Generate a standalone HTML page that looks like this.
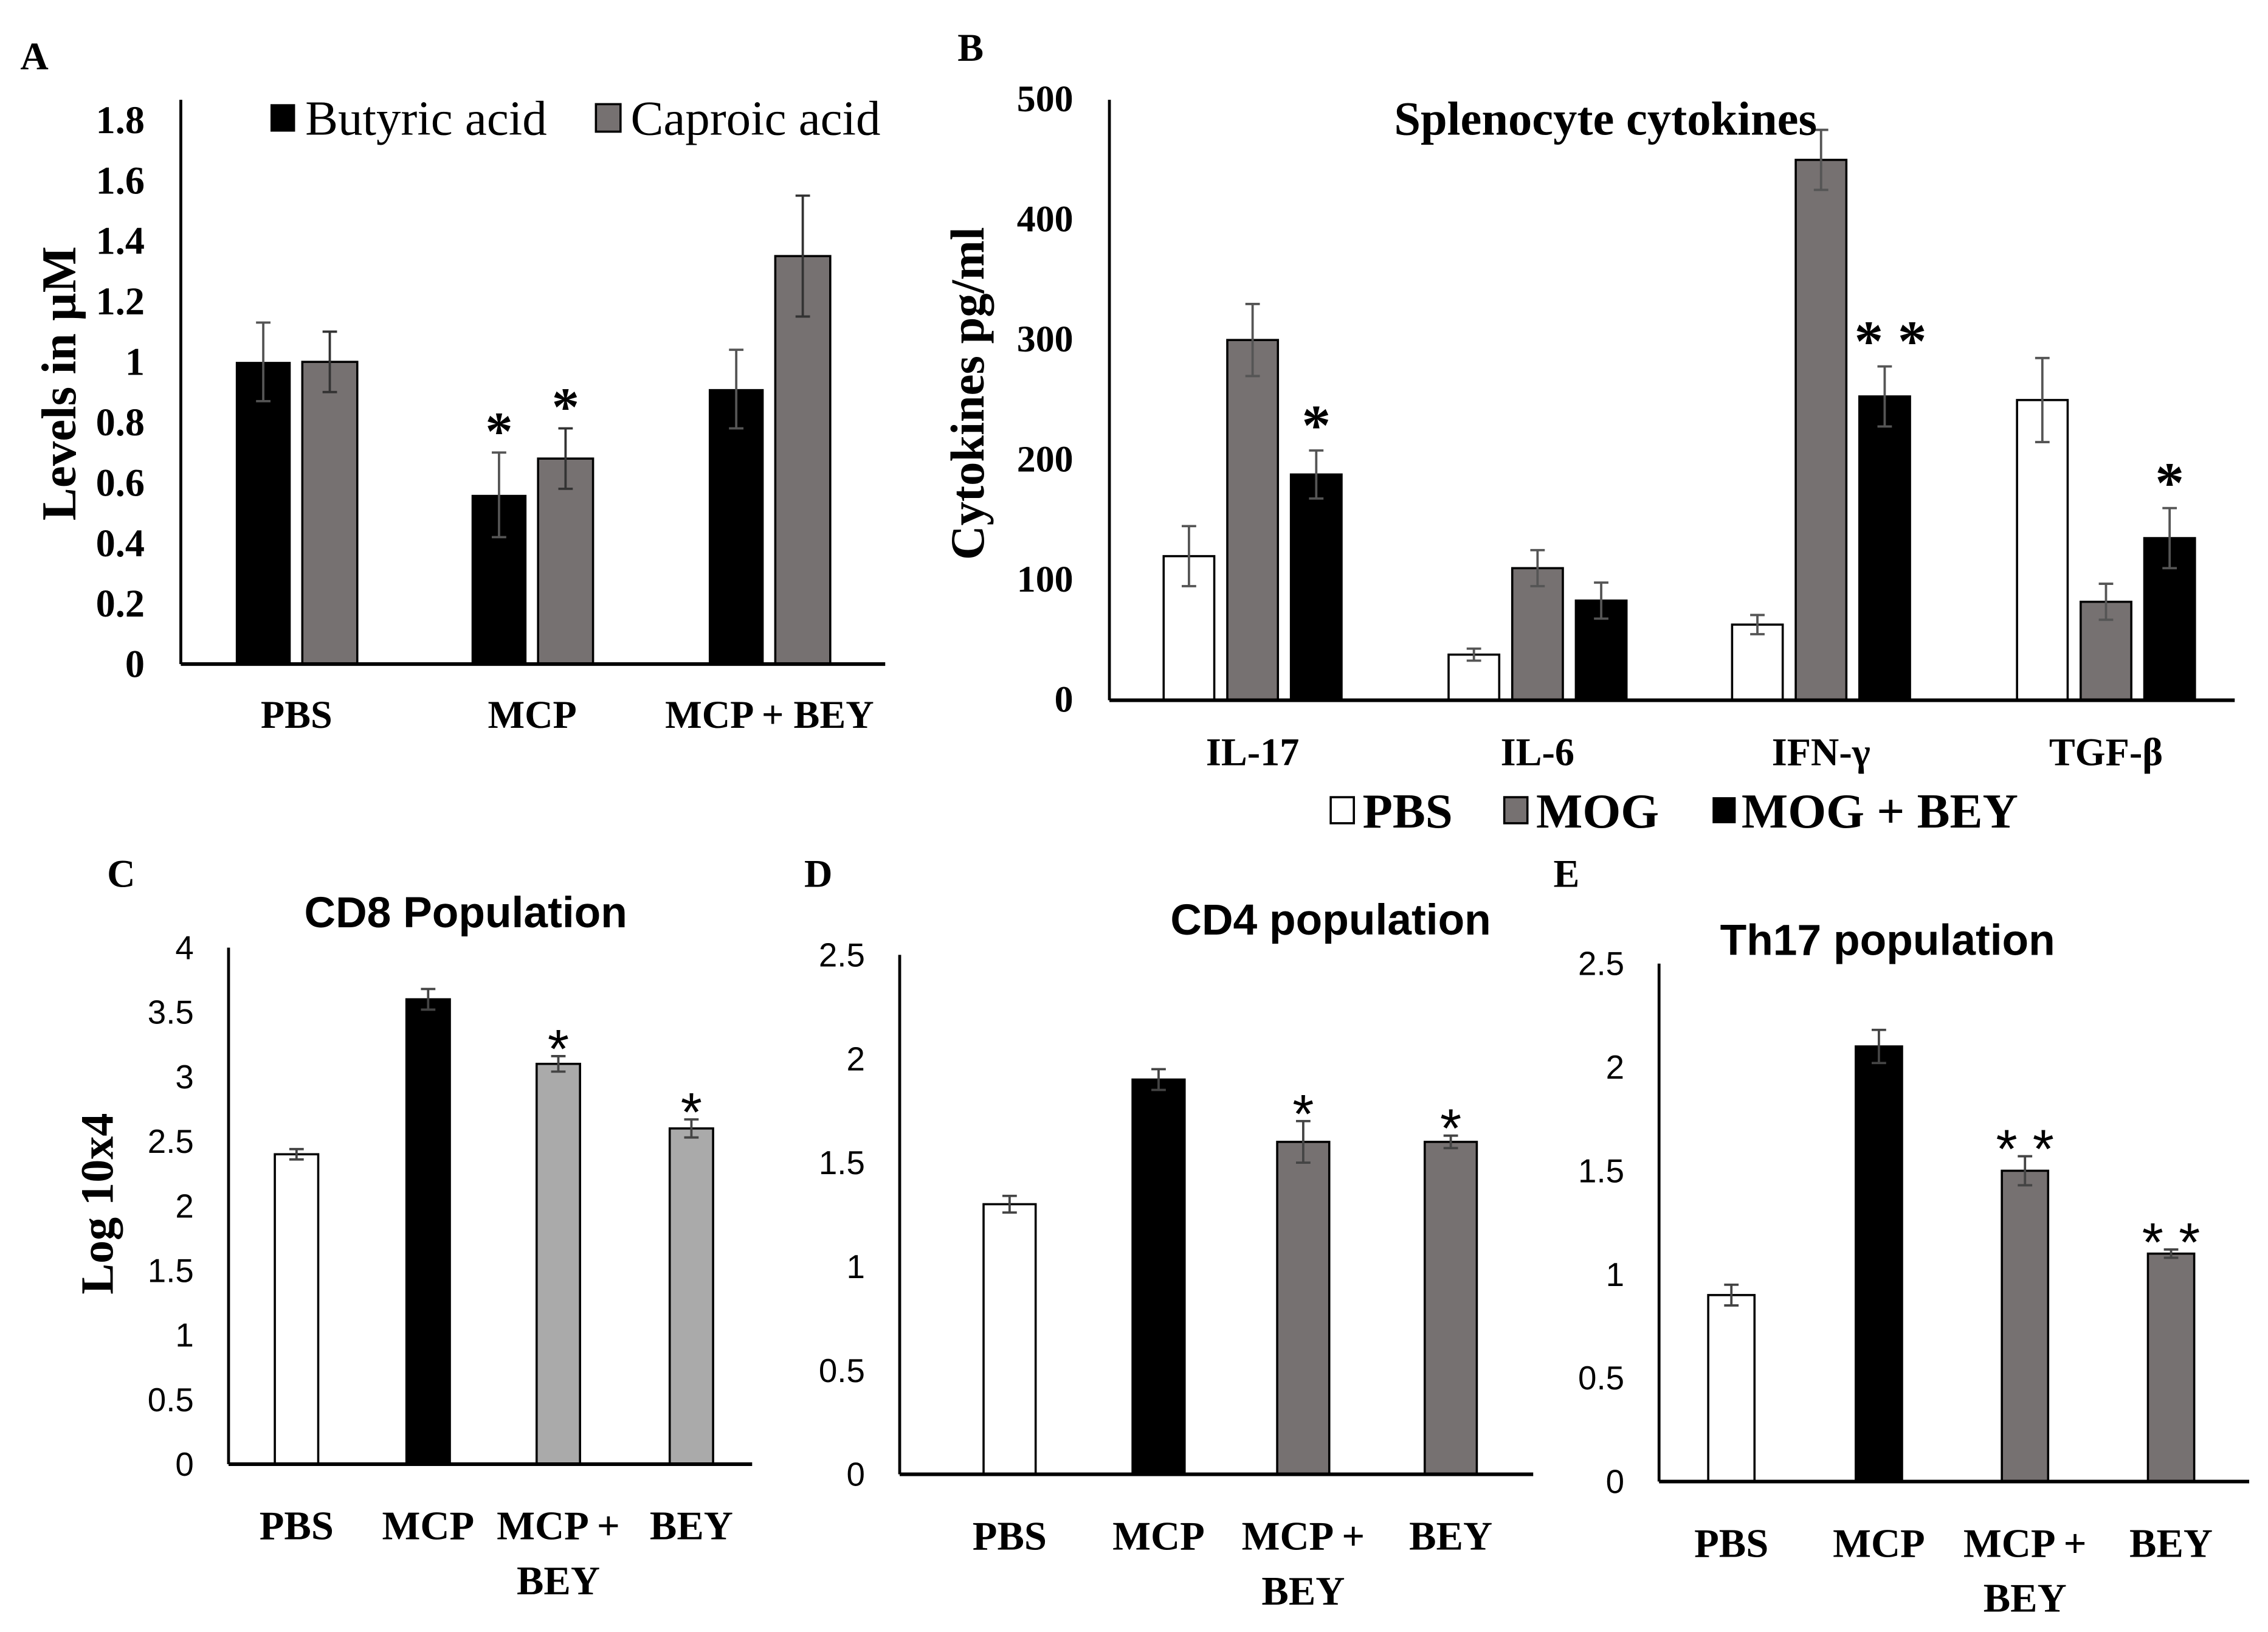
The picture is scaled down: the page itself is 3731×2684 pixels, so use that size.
<!DOCTYPE html>
<html><head><meta charset="utf-8"><style>
html,body{margin:0;padding:0;background:#fff}
svg{display:block}
.s{font-family:"Liberation Serif",serif;font-weight:bold}
.n{font-family:"Liberation Sans",sans-serif}
</style></head><body>
<svg id="fig" width="3731" height="2684" viewBox="0 0 1568 1128" xmlns="http://www.w3.org/2000/svg">
<rect width="1568" height="1128" fill="#fff"/>
</svg>
<script>
// Panel A data
const aCats=["PBS","MCP","MCP + BEY"];
const aButyric=[1.0,0.56,0.91];
const aButyricErr=[0.13,0.14,0.13];
const aCaproic=[1.0,0.68,1.35];
const aCaproicErr=[0.1,0.1,0.2];
const aStars=[["",""],["*","*"],["",""]];
const aTicks=["0","0.2","0.4","0.6","0.8","1","1.2","1.4","1.6","1.8"];
// Panel B data
const bCats=["IL-17","IL-6","IFN-γ","TGF-β"];
const bPBS=[120,38,63,250];
const bPBSErr=[25,5,8,35];
const bMOG=[300,110,450,82];
const bMOGErr=[30,15,25,15];
const bBEY=[188,83,253,135];
const bBEYErr=[20,15,25,25];
const bStars=["*","","**","*"];
const bTicks=["0","100","200","300","400","500"];
// Panel C
const cCats=[["PBS"],["MCP"],["MCP +","BEY"],["BEY"]];
const cVals=[2.4,3.6,3.1,2.6];
const cErr=[0.04,0.08,0.06,0.07];
const cStars=["","","*","*"];
const cTicks=["0","0.5","1","1.5","2","2.5","3","3.5","4"];
// Panel D
const dVals=[1.3,1.9,1.6,1.6];
const dErr=[0.04,0.05,0.1,0.03];
const dStars=["","","*","*"];
const dTicks=["0","0.5","1","1.5","2","2.5"];
// Panel E
const eVals=[0.9,2.1,1.5,1.1];
const eErr=[0.05,0.08,0.07,0.02];
const eStars=["","","**","**"];
const eTicks=["0","0.5","1","1.5","2","2.5"];

const svg=document.getElementById('fig');
const NS="http://www.w3.org/2000/svg";
function mk(tag,attrs,parent){const e=document.createElementNS(NS,tag);for(const k in attrs)e.setAttribute(k,attrs[k]);(parent||svg).appendChild(e);return e;}
function txt(x,y,s,size,cls,anchor,parent){const t=mk('text',{x:x,y:y,'font-size':size,'class':cls,'text-anchor':anchor||'middle'},parent);t.textContent=s;return t;}
function errbar(g,x,y0,y1,w,color){
  mk('line',{x1:x,x2:x,y1:y0,y2:y1,stroke:color,'stroke-width':1.6},g);
  mk('line',{x1:x-w,x2:x+w,y1:y0,y2:y0,stroke:color,'stroke-width':1.6},g);
  mk('line',{x1:x-w,x2:x+w,y1:y1,y2:y1,stroke:color,'stroke-width':1.6},g);
}

// ---------- Panel A ----------
(function(){
  const g=mk('g',{});
  
  
  const x0=125,x1=612,y0=459,y1=83,max=1.8;
  const Y=v=>y0-(v/max)*(y0-y1);
  const cx=[205,368,532], bw=38, gap=8;
  aTicks.forEach((t,i)=>{const l=txt(100,Y(i*0.2)+9,t,27,'s','end',g);
    });
  aCats.forEach((c,i)=>{
    const xb=cx[i]-gap/2-bw, xc=cx[i]+gap/2;
    const r1=mk('rect',{x:xb,y:Y(aButyric[i]),width:bw,height:y0-Y(aButyric[i]),fill:'#000'},g);
    
    const r2=mk('rect',{x:xc,y:Y(aCaproic[i]),width:bw,height:y0-Y(aCaproic[i]),fill:'#767171',stroke:'#000','stroke-width':1.5},g);
    
    errbar(g,xb+bw/2,Y(aButyric[i]+aButyricErr[i]),Y(aButyric[i]-aButyricErr[i]),5,'#555');
    errbar(g,xc+bw/2,Y(aCaproic[i]+aCaproicErr[i]),Y(aCaproic[i]-aCaproicErr[i]),5,'#333');
    if(aStars[i][0])txt(xb+bw/2,Y(aButyric[i]+aButyricErr[i])-2,aStars[i][0],38,'s','middle',g);
    if(aStars[i][1])txt(xc+bw/2,Y(aCaproic[i]+aCaproicErr[i])-2,aStars[i][1],38,'s','middle',g);
    const l=txt(cx[i],503,c,27,'s','middle',g);
    
  });
  mk('line',{x1:x0,x2:x0,y1:y1-14,y2:y0,stroke:'#000','stroke-width':2},g);
  mk('line',{x1:x0,x2:x1,y1:y0,y2:y0,stroke:'#000','stroke-width':2.5},g);
  const yl=txt(0,0,'Levels in µM',34,'s','middle',g);
  yl.setAttribute('transform','translate(52,265) rotate(-90)');
  
  const lg=mk('g',{},g);
  mk('rect',{x:187,y:72,width:17,height:19,fill:'#000'},lg);
  txt(211,93,'Butyric acid',34,'','start',lg).setAttribute('font-family','Liberation Serif, serif');
  mk('rect',{x:412,y:72,width:17,height:19,fill:'#767171',stroke:'#000','stroke-width':1.5},lg);
  txt(436,93,'Caproic acid',34,'','start',lg).setAttribute('font-family','Liberation Serif, serif');
  txt(14,48,'A',27,'s','start',g);
})();

// ---------- Panel B ----------
(function(){
  const g=mk('g',{});
  
  
  const x0=767,x1=1545,y0=484,y1=69,max=500;
  const Y=v=>y0-(v/max)*(y0-y1);
  const cx=[866,1063,1259,1456], bw=35, gap=9;
  bTicks.forEach((t,i)=>{const l=txt(742,Y(i*100)+8,t,26,'s','end',g);
    });
  const series=[[bPBS,bPBSErr,'#fff','bar-pbs'],[bMOG,bMOGErr,'#767171','bar-mog'],[bBEY,bBEYErr,'#000','bar-mog-bey']];
  bCats.forEach((c,i)=>{
    series.forEach((s,j)=>{
      const x=cx[i]+(j-1)*(bw+gap)-bw/2;
      const r=mk('rect',{x:x,y:Y(s[0][i]),width:bw,height:y0-Y(s[0][i]),fill:s[2],stroke:'#000','stroke-width':1.5},g);
      
      errbar(g,x+bw/2,Y(s[0][i]+s[1][i]),Y(s[0][i]-s[1][i]),5,'#555');
      if(j===2&&bStars[i])txt(x+bw/2+(bStars[i].length>1?4:0),Y(s[0][i]+s[1][i])-4,bStars[i].split('').join(' '),40,'s','middle',g);
    });
    const l=txt(cx[i],529,c,27,'s','middle',g);
    
  });
  mk('line',{x1:x0,x2:x0,y1:y1,y2:y0,stroke:'#000','stroke-width':2},g);
  mk('line',{x1:x0,x2:x1,y1:y0,y2:y0,stroke:'#000','stroke-width':2.5},g);
  const t=txt(1110,93,'Splenocyte cytokines',33,'s','middle',g);
  
  const yl=txt(0,0,'Cytokines pg/ml',33,'s','middle',g);
  yl.setAttribute('transform','translate(680,272) rotate(-90)');
  
  const lg=mk('g',{},g);
  mk('rect',{x:920,y:551,width:16,height:18,fill:'#fff',stroke:'#000','stroke-width':1.5},lg);
  txt(942,572,'PBS',34,'s','start',lg);
  mk('rect',{x:1040,y:551,width:16,height:18,fill:'#767171',stroke:'#000','stroke-width':1.5},lg);
  txt(1062,572,'MOG',34,'s','start',lg);
  mk('rect',{x:1184,y:551,width:16,height:18,fill:'#000'},lg);
  txt(1204,572,'MOG + BEY',34,'s','start',lg);
  txt(662,42,'B',27,'s','start',g);
})();

// ---------- Panels C/D/E ----------
function small(p){
  const g=mk('g',{});
  
  
  const Y=v=>p.y0-(v/p.max)*(p.y0-p.y1);
  p.ticks.forEach((t,i)=>{const l=txt(p.x0-24,Y(i*0.5)+8,t,23,'n','end',g);
    });
  p.vals.forEach((v,i)=>{
    const x=p.cx[i]-p.bw/2;
    const r=mk('rect',{x:x,y:Y(v),width:p.bw,height:p.y0-Y(v),fill:p.colors[i],stroke:'#000','stroke-width':1.5},g);
    
    
    errbar(g,p.cx[i],Y(v+p.err[i]),Y(v-p.err[i]),5,'#444');
    if(p.stars[i])txt(p.cx[i],Y(v+p.err[i])+8,p.stars[i].split('').join(' '),38,'n','middle',g);
    cCats[i].forEach((line,k)=>{const l=txt(p.cx[i],p.ly+k*38,line,28,'s','middle',g);
      });
  });
  mk('line',{x1:p.x0,x2:p.x0,y1:p.y1,y2:p.y0,stroke:'#000','stroke-width':2},g);
  mk('line',{x1:p.x0,x2:p.x1,y1:p.y0,y2:p.y0,stroke:'#000','stroke-width':2.5},g);
  const t=txt(p.tx,p.ty,p.title,30,'n','middle',g);t.setAttribute('font-weight','bold');
  
  txt(p.lx,p.lyy,p.letter,27,'s','start',g);
  return g;
}
small({name:'panel-c',x0:158,x1:520,y0:1012,y1:655,max:4,cx:[205,296,386,478],bw:30,vals:cVals,err:cErr,stars:cStars,ticks:cTicks,
  colors:['#fff','#000','#aaa','#aaa'],ly:1064,title:'CD8  Population',tx:322,ty:641,letter:'C',lx:74,lyy:613});
small({name:'panel-d',x0:622,x1:1060,y0:1019,y1:660,max:2.5,cx:[698,801,901,1003],bw:36,vals:dVals,err:dErr,stars:dStars,ticks:dTicks,
  colors:['#fff','#000','#767171','#767171'],ly:1071,title:'CD4 population',tx:920,ty:646,letter:'D',lx:556,lyy:613});
small({name:'panel-e',x0:1147,x1:1555,y0:1024,y1:666,max:2.5,cx:[1197,1299,1400,1501],bw:32,vals:eVals,err:eErr,stars:eStars,ticks:eTicks,
  colors:['#fff','#000','#767171','#767171'],ly:1076,title:'Th17 population',tx:1305,ty:660,letter:'E',lx:1074,lyy:613});
const cyl=txt(0,0,'Log 10x4',32,'s','middle');
cyl.setAttribute('transform','translate(78,832) rotate(-90)');


</script>
</body></html>
